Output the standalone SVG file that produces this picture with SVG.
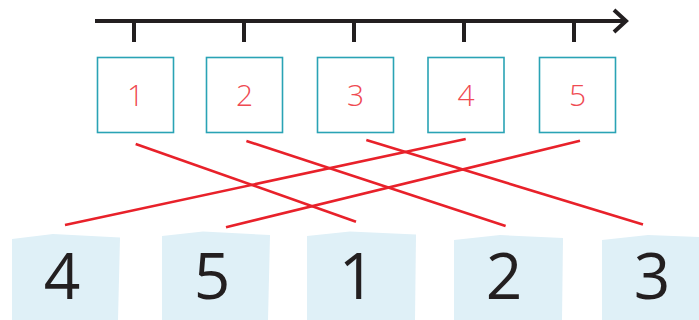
<svg xmlns="http://www.w3.org/2000/svg" width="699" height="320" viewBox="0 0 699 320">
<style>
.axis{stroke:#231f20;stroke-width:4;fill:none;stroke-linecap:butt}
.box{fill:#ffffff;stroke:#2aa3b5;stroke-width:1.6}
.num{font-family:"Open Sans","Liberation Sans",sans-serif;font-weight:300;font-size:30px;fill:#ef4a52;text-anchor:middle}
.card{fill:#dff0f7}
.big{font-family:"Open Sans","Liberation Sans",sans-serif;font-size:64px;fill:#231f20;text-anchor:middle}
.link{stroke:#e8212a;stroke-width:2.6;fill:none}
</style>
<g id="axis">
<line class="axis" x1="95" y1="21" x2="626" y2="21"/>
<polyline class="axis" points="614,10 626,21 614,32" stroke-linejoin="miter"/>
<line class="axis" x1="134" y1="21" x2="134" y2="42"/>
<line class="axis" x1="244" y1="21" x2="244" y2="42"/>
<line class="axis" x1="354" y1="21" x2="354" y2="42"/>
<line class="axis" x1="464" y1="21" x2="464" y2="42"/>
<line class="axis" x1="574" y1="21" x2="574" y2="42"/>
</g>
<g id="top1"><rect class="box" x="97.5" y="57.5" width="76" height="75"/><text class="num" x="135.5" y="106">1</text></g>
<g id="top2"><rect class="box" x="206.5" y="57.5" width="76" height="75"/><text class="num" x="244.5" y="106">2</text></g>
<g id="top3"><rect class="box" x="317.5" y="57.5" width="76" height="75"/><text class="num" x="355.5" y="106">3</text></g>
<g id="top4"><rect class="box" x="428" y="57.5" width="76" height="75"/><text class="num" x="466" y="106">4</text></g>
<g id="top5"><rect class="box" x="539.5" y="57.5" width="76" height="75"/><text class="num" x="577.5" y="106">5</text></g>
<g id="card4"><polygon class="card" points="12,239 53,234 120,237.5 118,320 12,320"/><text class="big" x="62" y="299">4</text></g>
<g id="card5"><polygon class="card" points="162,236 203,231.5 270,235 268,320 162,320"/><text class="big" x="212" y="299">5</text></g>
<g id="card1"><polygon class="card" points="307,236 350,231.5 416,234.5 415,320 307,320"/><text class="big" x="357" y="299">1</text></g>
<g id="card2"><polygon class="card" points="454,240 500,235 563,238 562,320 454,320"/><text class="big" x="504" y="299">2</text></g>
<g id="card3"><polygon class="card" points="602,240 648,235 699,237 699,320 602,320"/><text class="big" x="652" y="299">3</text></g>
<g id="connectors">
<line class="link" x1="135.7" y1="144" x2="356" y2="221.7"/>
<line class="link" x1="246.4" y1="141" x2="505.6" y2="226"/>
<line class="link" x1="366.3" y1="140" x2="643" y2="224.5"/>
<line class="link" x1="465.7" y1="139" x2="65" y2="225"/>
<line class="link" x1="580" y1="140.7" x2="226" y2="227.3"/>
</g>
</svg>
